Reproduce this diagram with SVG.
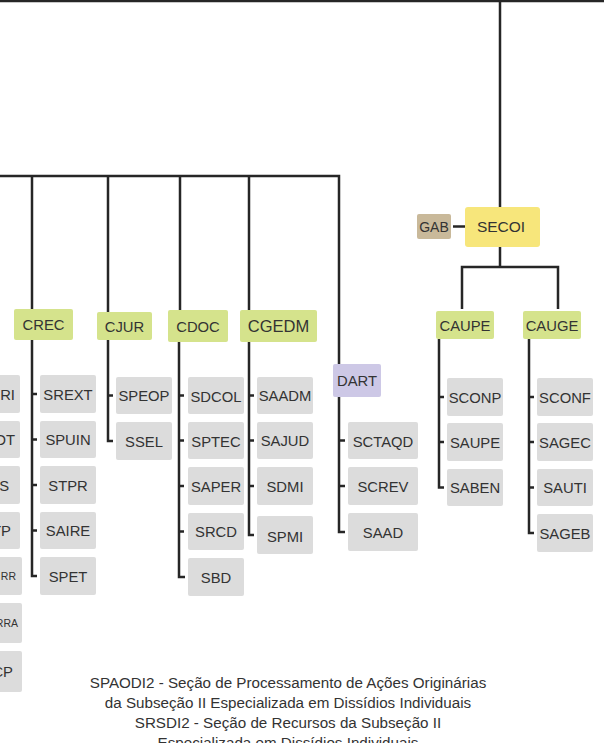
<svg xmlns="http://www.w3.org/2000/svg" width="604" height="743" viewBox="0 0 604 743">
<style>
.ln{fill:none;stroke:#262626;stroke-width:2.5;stroke-linejoin:miter}
.g{fill:#d5e38c}
.c{fill:#dcdcdc}
.t{font-family:"Liberation Sans",Arial,sans-serif;font-size:14.8px;fill:#333;text-anchor:middle}
.s{font-size:10.5px}
.cap{font-family:"Liberation Sans",Arial,sans-serif;font-size:15.2px;fill:#333;text-anchor:middle}
</style>
<rect width="604" height="743" fill="#fff"/>
<g id="connectors">
<line class="ln" x1="0" y1="1" x2="604" y2="1"/>
<line class="ln" x1="500" y1="0" x2="500" y2="207"/>
<line class="ln" x1="453" y1="226.5" x2="465" y2="226.5"/>
<polyline class="ln" points="462,309 462,267 558,267 558,309"/>
<line class="ln" x1="500" y1="247" x2="500" y2="267"/>
<polyline class="ln" points="0,176 339,176 339,364"/>
<line class="ln" x1="32" y1="176" x2="32" y2="309"/>
<line class="ln" x1="108" y1="176" x2="108" y2="312"/>
<line class="ln" x1="180" y1="176" x2="180" y2="310"/>
<line class="ln" x1="249" y1="176" x2="249" y2="310"/>
<polyline class="ln" points="32,340 32,576 37,576"/>
<path class="ln" d="M32 394h5M32 439.5h5M32 485h5M32 530.5h5"/>
<polyline class="ln" points="108,340 108,441 113,441"/>
<path class="ln" d="M108 395.5h5"/>
<polyline class="ln" points="179,342 179,577 185,577"/>
<path class="ln" d="M179 395.5h5M179 440.5h5M179 486h5M179 531.5h5"/>
<polyline class="ln" points="249,342 249,535 254,535"/>
<path class="ln" d="M249 395.5h5M249 440.5h5M249 486h5"/>
<polyline class="ln" points="339,397 339,532 345,532"/>
<path class="ln" d="M339 440.5h6M339 486h6"/>
<polyline class="ln" points="439,339 439,487.5 444,487.5"/>
<path class="ln" d="M439 397h5M439 442h5"/>
<polyline class="ln" points="529,339 529,533 534,533"/>
<path class="ln" d="M529 397h5M529 442h5M529 487.5h5"/>
</g>
<g id="SECOI"><rect x="465" y="207" width="75" height="40" rx="3" fill="#f7e67b"/><text class="t" x="501" y="232" style="font-size:15.5px">SECOI</text></g>
<g id="GAB"><rect x="417" y="214" width="34" height="25" rx="2" fill="#c9b99a"/><text class="t" x="434" y="231.5" style="font-size:14px">GAB</text></g>
<g id="CAUPE"><rect x="436" y="311" width="58" height="28" rx="2" class="g"/><text class="t" x="465" y="330.5">CAUPE</text></g>
<g id="CAUGE"><rect x="523" y="311" width="58" height="28" rx="2" class="g"/><text class="t" x="552" y="330.5">CAUGE</text></g>
<g id="CREC"><rect x="14" y="309" width="59" height="31" rx="2" class="g"/><text class="t" x="43.5" y="330">CREC</text></g>
<g id="CJUR"><rect x="97" y="312" width="55" height="28" rx="2" class="g"/><text class="t" x="124.5" y="331.5">CJUR</text></g>
<g id="CDOC"><rect x="168" y="310" width="60" height="32" rx="2" class="g"/><text class="t" x="198" y="331.5">CDOC</text></g>
<g id="CGEDM"><rect x="240" y="310" width="77" height="32" rx="2" class="g"/><text class="t" x="278.5" y="332" style="font-size:16.5px">CGEDM</text></g>
<g id="DART"><rect x="333" y="364" width="48" height="33" rx="2" fill="#cdc8e6"/><text class="t" x="357" y="385.5">DART</text></g>
<g id="SREXT"><rect x="40" y="375" width="56" height="38" rx="2" class="c"/><text class="t" x="68" y="399.5">SREXT</text></g>
<g id="SPUIN"><rect x="40" y="421" width="56" height="37" rx="2" class="c"/><text class="t" x="68" y="445">SPUIN</text></g>
<g id="STPR"><rect x="40" y="466" width="56" height="38" rx="2" class="c"/><text class="t" x="68" y="490.5">STPR</text></g>
<g id="SAIRE"><rect x="40" y="512" width="56" height="37" rx="2" class="c"/><text class="t" x="68" y="536">SAIRE</text></g>
<g id="SPET"><rect x="40" y="557" width="56" height="38" rx="2" class="c"/><text class="t" x="68" y="581.5">SPET</text></g>
<g id="SPEOP"><rect x="116" y="377" width="56" height="37" rx="2" class="c"/><text class="t" x="144" y="401">SPEOP</text></g>
<g id="SSEL"><rect x="116" y="422" width="56" height="38" rx="2" class="c"/><text class="t" x="144" y="446.5">SSEL</text></g>
<g id="SDCOL"><rect x="188" y="377" width="56" height="37" rx="2" class="c"/><text class="t" x="216" y="401.5">SDCOL</text></g>
<g id="SPTEC"><rect x="188" y="422" width="56" height="37" rx="2" class="c"/><text class="t" x="216" y="446.5">SPTEC</text></g>
<g id="SAPER"><rect x="188" y="467" width="56" height="38" rx="2" class="c"/><text class="t" x="216" y="491.5">SAPER</text></g>
<g id="SRCD"><rect x="188" y="513" width="56" height="37" rx="2" class="c"/><text class="t" x="216" y="537">SRCD</text></g>
<g id="SBD"><rect x="188" y="558" width="56" height="38" rx="2" class="c"/><text class="t" x="216" y="582.5">SBD</text></g>
<g id="SAADM"><rect x="257" y="377" width="56" height="37" rx="2" class="c"/><text class="t" x="285" y="401">SAADM</text></g>
<g id="SAJUD"><rect x="257" y="422" width="56" height="37" rx="2" class="c"/><text class="t" x="285" y="446">SAJUD</text></g>
<g id="SDMI"><rect x="257" y="467" width="56" height="38" rx="2" class="c"/><text class="t" x="285" y="491.5">SDMI</text></g>
<g id="SPMI"><rect x="257" y="516" width="56" height="38" rx="2" class="c"/><text class="t" x="285" y="541.5">SPMI</text></g>
<g id="SCTAQD"><rect x="348" y="422" width="70" height="37" rx="2" class="c"/><text class="t" x="383" y="446.5">SCTAQD</text></g>
<g id="SCREV"><rect x="348" y="467" width="70" height="38" rx="2" class="c"/><text class="t" x="383" y="491.5">SCREV</text></g>
<g id="SAAD"><rect x="348" y="513" width="70" height="38" rx="2" class="c"/><text class="t" x="383" y="537.5">SAAD</text></g>
<g id="SCONP"><rect x="447" y="378" width="56" height="38" rx="2" class="c"/><text class="t" x="475" y="402.5">SCONP</text></g>
<g id="SAUPE"><rect x="447" y="423" width="56" height="38" rx="2" class="c"/><text class="t" x="475" y="447.5">SAUPE</text></g>
<g id="SABEN"><rect x="447" y="469" width="56" height="37" rx="2" class="c"/><text class="t" x="475" y="493">SABEN</text></g>
<g id="SCONF"><rect x="537" y="378" width="56" height="38" rx="2" class="c"/><text class="t" x="565" y="402.5">SCONF</text></g>
<g id="SAGEC"><rect x="537" y="423" width="56" height="38" rx="2" class="c"/><text class="t" x="565" y="447.5">SAGEC</text></g>
<g id="SAUTI"><rect x="537" y="469" width="56" height="37" rx="2" class="c"/><text class="t" x="565" y="493">SAUTI</text></g>
<g id="SAGEB"><rect x="537" y="514" width="56" height="38" rx="2" class="c"/><text class="t" x="565" y="538.5">SAGEB</text></g>
<g id="L1"><rect x="-40" y="375" width="60" height="38" rx="2" class="c"/><text class="t" x="15" y="399.5" style="text-anchor:end">RI</text></g>
<g id="L2"><rect x="-40" y="421" width="60" height="37" rx="2" class="c"/><text class="t" x="15" y="445" style="text-anchor:end">OT</text></g>
<g id="L3"><rect x="-40" y="466" width="60" height="38" rx="2" class="c"/><text class="t" x="9" y="490.5" style="text-anchor:end">S</text></g>
<g id="L4"><rect x="-40" y="512" width="60" height="37" rx="2" class="c"/><text class="t" x="11" y="536" style="text-anchor:end">TP</text></g>
<g id="L5"><rect x="-40" y="557" width="62" height="38" rx="2" class="c"/><text class="t s" x="16" y="580" style="text-anchor:end">RR</text></g>
<g id="L6"><rect x="-40" y="603" width="62" height="40" rx="2" class="c"/><text class="t s" x="18" y="627" style="text-anchor:end">RRA</text></g>
<g id="L7"><rect x="-40" y="651" width="62" height="41" rx="2" class="c"/><text class="t" x="13" y="676.5" style="text-anchor:end">CP</text></g>
<g id="caption">
<text class="cap" x="288" y="688">SPAODI2 - Seção de Processamento de Ações Originárias</text>
<text class="cap" x="288" y="708">da Subseção II Especializada em Dissídios Individuais</text>
<text class="cap" x="288" y="728">SRSDI2 - Seção de Recursos da Subseção II</text>
<text class="cap" x="288" y="748">Especializada em Dissídios Individuais</text>
</g>
</svg>
